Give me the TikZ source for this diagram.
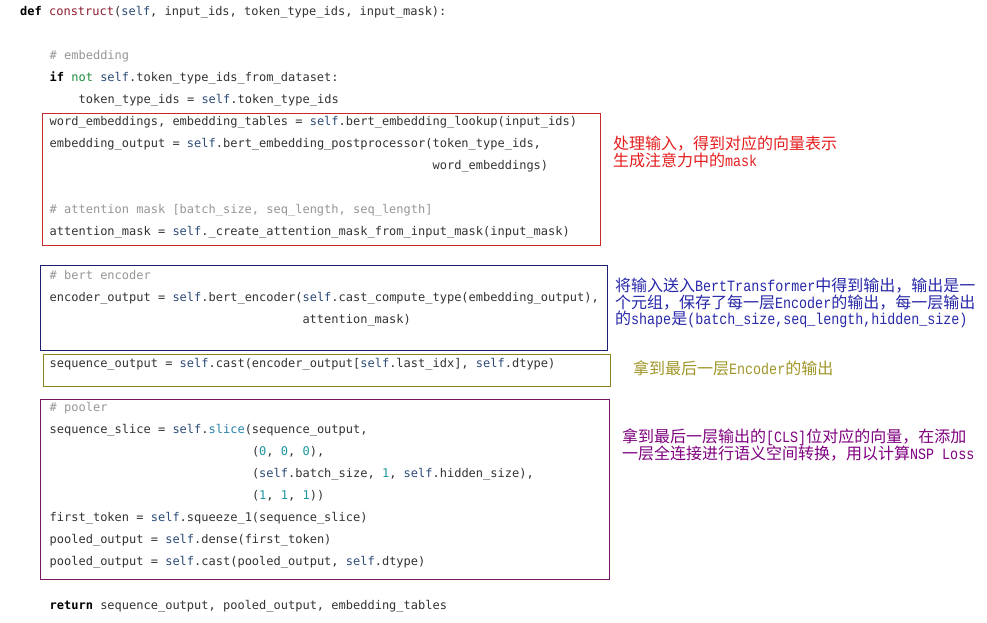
\documentclass[tikz,border=0pt]{standalone}
\usepackage{fontspec}
\setmonofont{DejaVu Sans Mono}
\newfontfamily\cjk{Noto Sans CJK SC}
\newfontfamily\anm{Liberation Mono}[FakeStretch=0.85]
\definecolor{codec}{RGB}{51,51,51}
\definecolor{selfc}{RGB}{45,75,120}
\definecolor{fnc}{RGB}{140,30,45}
\definecolor{grnc}{RGB}{30,140,60}
\definecolor{cmtc}{RGB}{150,150,150}
\definecolor{numc}{RGB}{30,150,160}
\definecolor{slicec}{RGB}{40,130,170}
\definecolor{redbox}{RGB}{200,40,40}
\definecolor{bluebox}{RGB}{30,30,110}
\definecolor{olivebox}{RGB}{140,130,30}
\definecolor{purplebox}{RGB}{120,20,100}
\definecolor{redt}{RGB}{230,30,30}
\definecolor{bluet}{RGB}{40,40,170}
\definecolor{olivet}{RGB}{160,150,40}
\definecolor{purplet}{RGB}{128,0,128}
\newcommand\codefont{\ttfamily\fontsize{12}{14}\selectfont}
\newcommand\annfont{\cjk\fontsize{16}{16}\selectfont}
\newcommand\lat[1]{{\anm\fontsize{15.7}{16}\selectfont #1}}
\newcommand\slf{\textcolor{selfc}{self}}
\newcommand\kw[1]{\textcolor{black}{\bfseries #1}}
\newcommand\cmt[1]{\textcolor{cmtc}{#1}}
\newcommand\nm[1]{\textcolor{numc}{#1}}
\tikzset{
  code/.style={anchor=base west, inner sep=0pt, text=codec, font=\codefont},
  ann/.style={anchor=base west, inner sep=0pt, font=\annfont},
  frame/.style={line width=1pt},
}
\begin{document}
\begin{tikzpicture}[x=1pt,y=1pt]
\useasboundingbox[fill=white] (0,0) rectangle (987,-622);
% code lines (baseline = 15 + 22k)
\node[code] (l0) at (20,-15) {\kw{def} \textcolor{fnc}{construct}(\slf, input\_ids, token\_type\_ids, input\_mask):};
\node[code] (l2) at (49.5,-59) {\cmt{\# embedding}};
\node[code] (l3) at (49.5,-81) {\kw{if} \textcolor{grnc}{not} \slf.token\_type\_ids\_from\_dataset:};
\node[code] (l4) at (78.5,-103) {token\_type\_ids = \slf.token\_type\_ids};
\node[code] (l5) at (49.5,-125) {word\_embeddings, embedding\_tables = \slf.bert\_embedding\_lookup(input\_ids)};
\node[code] (l6) at (49.5,-147) {embedding\_output = \slf.bert\_embedding\_postprocessor(token\_type\_ids,};
\node[code] (l7) at (432.4,-169) {word\_embeddings)};
\node[code] (l9) at (49.5,-213) {\cmt{\# attention mask [batch\_size, seq\_length, seq\_length]}};
\node[code] (l10) at (49.5,-235) {attention\_mask = \slf.\_create\_attention\_mask\_from\_input\_mask(input\_mask)};
\node[code] (l12) at (49.5,-279) {\cmt{\# bert encoder}};
\node[code] (l13) at (49.5,-301) {encoder\_output = \slf.bert\_encoder(\slf.cast\_compute\_type(embedding\_output),};
\node[code] (l14) at (302.3,-323) {attention\_mask)};
\node[code] (l16) at (49.5,-367) {sequence\_output = \slf.cast(encoder\_output[\slf.last\_idx], \slf.dtype)};
\node[code] (l18) at (49.5,-411) {\cmt{\# pooler}};
\node[code] (l19) at (49.5,-433) {sequence\_slice = \slf.\textcolor{slicec}{slice}(sequence\_output,};
\node[code] (l20) at (251.8,-455) {(\nm{0}, \nm{0}, \nm{0}),};
\node[code] (l21) at (251.8,-477) {(\slf.batch\_size, \nm{1}, \slf.hidden\_size),};
\node[code] (l22) at (251.8,-499) {(\nm{1}, \nm{1}, \nm{1}))};
\node[code] (l23) at (49.5,-521) {first\_token = \slf.squeeze\_1(sequence\_slice)};
\node[code] (l24) at (49.5,-543) {pooled\_output = \slf.dense(first\_token)};
\node[code] (l25) at (49.5,-565) {pooled\_output = \slf.cast(pooled\_output, \slf.dtype)};
\node[code] (l27) at (49.5,-609) {\kw{return} sequence\_output, pooled\_output, embedding\_tables};
% frames
\draw[frame, redbox] (42.3,-113.3) rectangle (600,-245.7);
\draw[frame, bluebox] (40.3,-265.3) rectangle (607.6,-350);
\draw[frame, olivebox] (43.5,-354.3) rectangle (610.7,-386);
\draw[frame, purplebox] (40.3,-399.7) rectangle (609,-579.3);
% annotations
\node[ann, text=redt] (r1) at (613,-149) {处理输入，得到对应的向量表示};
\node[ann, text=redt] (r2) at (613,-166) {生成注意力中的\lat{mask}};
\node[ann, text=bluet] (b1) at (615,-291.5) {将输入送入\lat{BertTransformer}中得到输出，输出是一};
\node[ann, text=bluet] (b2) at (615,-308) {个元组，保存了每一层\lat{Encoder}的输出，每一层输出};
\node[ann, text=bluet] (b3) at (615,-324.5) {的\lat{shape}是\lat{(batch\_size,seq\_length,hidden\_size)}};
\node[ann, text=olivet] (o1) at (633,-374) {拿到最后一层\lat{Encoder}的输出};
\node[ann, text=purplet] (p1) at (622,-442) {拿到最后一层输出的\lat{[CLS]}位对应的向量，在添加};
\node[ann, text=purplet] (p2) at (622,-459) {一层全连接进行语义空间转换，用以计算\lat{NSP Loss}};
\end{tikzpicture}
\end{document}
